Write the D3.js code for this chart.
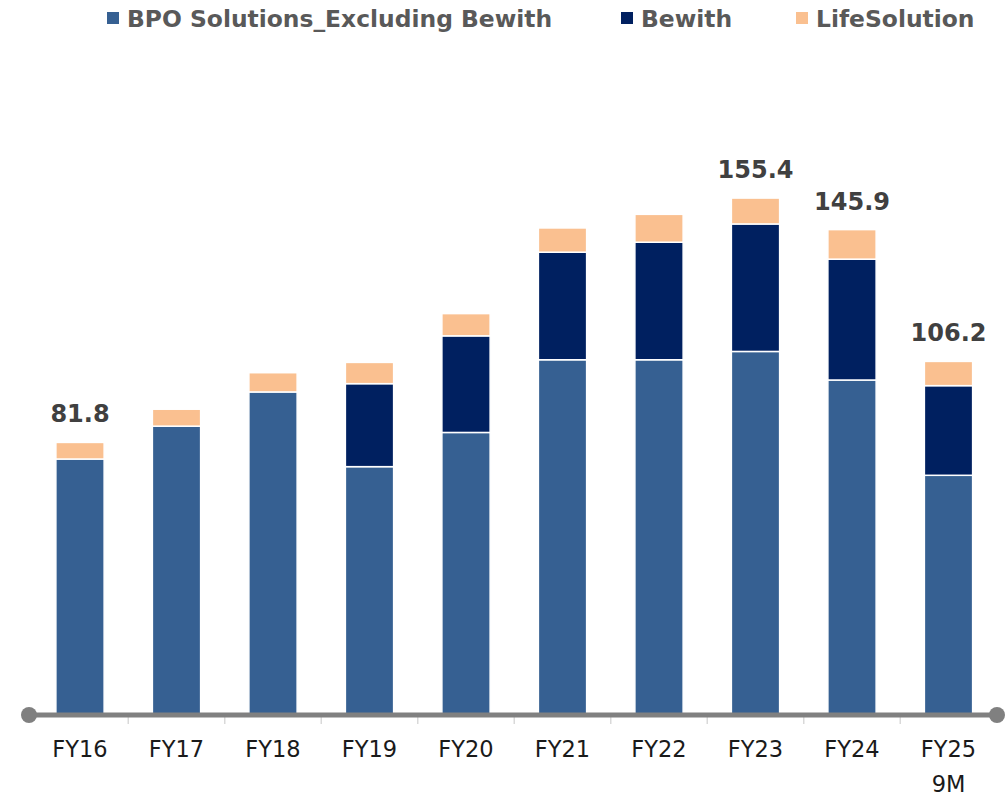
<html>
<head>
    <meta http-equiv="Content-Type" content="text/html;charset=utf-8">
    <title>Stacked bars - segments</title>
    <style>
        body { margin: 0; background: #fff; }
        svg { display: block; font-family: "DejaVu Sans", Verdana, sans-serif; }
    </style>
</head>
<body>
</body>
<script type="text/javascript" src="https://cdn.jsdelivr.net/npm/d3@7/dist/d3.min.js"></script>
<script>
    var w = 1007, h = 797;

    // data
    var years = ['FY16', 'FY17', 'FY18', 'FY19', 'FY20', 'FY21', 'FY22', 'FY23', 'FY24', 'FY25'];
    var subLabels = ['', '', '', '', '', '', '', '', '', '9M'];
    var bpo = [76.8, 86.7, 97.0, 74.5, 84.8, 106.7, 106.7, 109.2, 100.6, 71.9];
    var bewith = [0, 0, 0, 25.0, 29.1, 32.4, 35.4, 38.4, 36.4, 27.0];
    var life = [5.0, 5.1, 5.8, 6.4, 6.7, 7.3, 8.4, 7.8, 8.9, 7.3];
    var totalLabels = ['81.8', '', '', '', '', '', '', '155.4', '145.9', '106.2'];
    var seriesNames = ['BPO Solutions_Excluding Bewith', 'Bewith', 'LifeSolution'];
    var colors = ['#366092', '#002060', '#fac090'];

    var keys = ['bpo', 'bewith', 'life'];
    var table = years.map(function (y, i) {
        return {year: y, bpo: bpo[i], bewith: bewith[i], life: life[i]};
    });

    var svg = d3.select('body')
            .append('svg')
            .attr('width', w)
            .attr('height', h);

    var x = d3.scaleBand()
            .domain(years)
            .range([31.75, 996.75])
            .paddingInner(0.5)
            .paddingOuter(0.25);

    var y = d3.scaleLinear()
            .domain([0, 160])
            .range([714, 714 - 160 * 3.32]);

    var stacked = d3.stack().keys(keys)(table);

    svg.selectAll('g.layer')
            .data(stacked)
            .enter()
            .append('g')
            .attr('class', 'layer')
            .attr('fill', function (d, i) { return colors[i]; })
            .selectAll('rect')
            .data(function (d) { return d; })
            .enter()
            .filter(function (d) { return d[1] - d[0] > 0; })
            .append('rect')
            .attr('x', function (d) { return x(d.data.year); })
            .attr('width', x.bandwidth())
            .attr('y', function (d) { return y(d[1]); })
            .attr('height', function (d) { return y(d[0]) - y(d[1]); })
            .attr('stroke', '#fff')
            .attr('stroke-width', 1.5);

    // total labels
    svg.selectAll('text.total')
            .data(table)
            .enter()
            .append('text')
            .attr('class', 'total')
            .attr('x', function (d) { return x(d.year) + x.bandwidth() / 2; })
            .attr('y', function (d) { return y(d.bpo + d.bewith + d.life) - 20; })
            .attr('text-anchor', 'middle')
            .attr('font-size', 24)
            .attr('font-weight', 'bold')
            .attr('fill', '#404040')
            .text(function (d, i) { return totalLabels[i]; });

    // category axis
    var axisY = 715;
    var boundaries = years.slice(1).map(function (d) { return x(d) - x.step() * x.paddingInner() / 2; });
    svg.selectAll('line.tick')
            .data(boundaries)
            .enter()
            .append('line')
            .attr('class', 'tick')
            .attr('x1', function (d) { return d; })
            .attr('x2', function (d) { return d; })
            .attr('y1', axisY + 2)
            .attr('y2', axisY + 9)
            .attr('stroke', '#d9d9d9')
            .attr('stroke-width', 1.5);

    svg.append('line')
            .attr('x1', 29)
            .attr('x2', 997)
            .attr('y1', axisY)
            .attr('y2', axisY)
            .attr('stroke', '#808080')
            .attr('stroke-width', 5);

    svg.selectAll('circle.end')
            .data([29, 997])
            .enter()
            .append('circle')
            .attr('class', 'end')
            .attr('cx', function (d) { return d; })
            .attr('cy', axisY)
            .attr('r', 8)
            .attr('fill', '#808080');

    svg.selectAll('text.cat')
            .data(years)
            .enter()
            .append('text')
            .attr('class', 'cat')
            .attr('x', function (d) { return x(d) + x.bandwidth() / 2; })
            .attr('y', 757)
            .attr('text-anchor', 'middle')
            .attr('font-size', 22.5)
            .attr('fill', '#1a1a1a')
            .text(function (d) { return d; });

    svg.selectAll('text.sub')
            .data(years)
            .enter()
            .append('text')
            .attr('class', 'sub')
            .attr('x', function (d) { return x(d) + x.bandwidth() / 2; })
            .attr('y', 792)
            .attr('text-anchor', 'middle')
            .attr('font-size', 22.5)
            .attr('fill', '#1a1a1a')
            .text(function (d, i) { return subLabels[i]; });

    // legend
    var legendX = [107, 621, 796];
    var legend = svg.selectAll('g.legend')
            .data(seriesNames)
            .enter()
            .append('g')
            .attr('class', 'legend')
            .attr('transform', function (d, i) { return 'translate(' + legendX[i] + ',0)'; });

    legend.append('rect')
            .attr('x', 0)
            .attr('y', 12)
            .attr('width', 12)
            .attr('height', 12)
            .attr('fill', function (d, i) { return colors[i]; });

    legend.append('text')
            .attr('x', 20)
            .attr('y', 27)
            .attr('font-size', 23.4)
            .attr('font-weight', 'bold')
            .attr('fill', '#595959')
            .text(function (d) { return d; });
</script>
</html>
